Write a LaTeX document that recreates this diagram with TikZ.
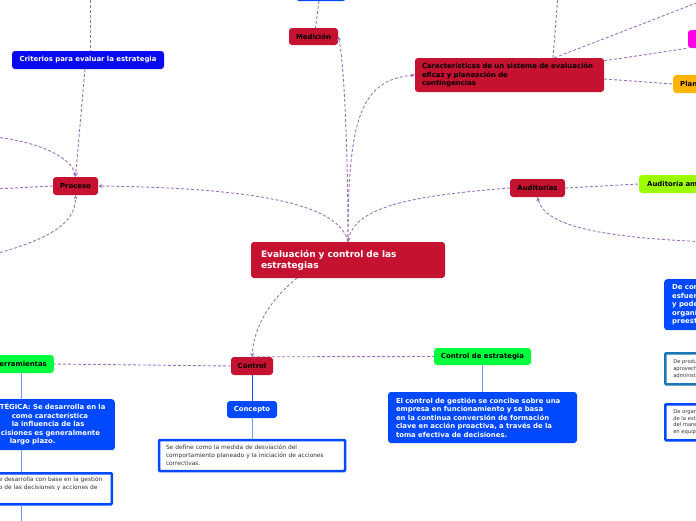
\documentclass[tikz,border=0pt]{standalone}
\usepackage{fontspec}
\setmainfont{DejaVu Sans}
\usepackage{xcolor}
\usetikzlibrary{arrows.meta}

\definecolor{mapred}{HTML}{C41230}
\definecolor{mapblue}{HTML}{0049FF}
\definecolor{mapdeep}{HTML}{0A0AF0}
\definecolor{mapgreen}{HTML}{00FF3C}
\definecolor{maplime}{HTML}{9CFF00}
\definecolor{mappink}{HTML}{FF00E6}
\definecolor{maporange}{HTML}{FFB400}
\definecolor{mapteal}{HTML}{1C78B4}
\definecolor{maplink}{HTML}{9C72BE}
\definecolor{maptext}{HTML}{333333}

\tikzset{
	topic/.style={rounded corners=3pt, inner sep=0pt, font=\bfseries\fontsize{6.9}{8.5}\selectfont},
	redtopic/.style={topic, fill=mapred, text=black},
	note/.style={topic, fill=mapblue, text=white, align=left},
	card/.style={rounded corners=1pt, inner sep=0pt, fill=white, draw=mapblue, line width=2.5pt, text=maptext, align=left, font=\fontsize{5.9}{8}\selectfont},
	link/.style={draw=maplink, line width=0.9pt, dash pattern=on 3pt off 2pt},
	linkto/.style={link, -{Stealth[length=4pt,width=4pt]}},
	stem/.style={draw=mapblue!55, line width=1pt},
}

\begin{document}
\begin{tikzpicture}[x=1pt,y=-1pt]
	\useasboundingbox (0,0) rectangle (696,520);
	\clip (0,0) rectangle (696,520);
	\node[redtopic, text=white, minimum width=194pt, minimum height=36pt, text width=174pt, align=left, font=\bfseries\fontsize{9}{11}\selectfont] (main) at (348,260) {Evaluación y control de las\\estrategias};
	\node[topic, fill=mapblue, minimum width=50pt, minimum height=18pt] (tbl) at (321,-8) {};
	\node[redtopic, minimum width=49pt, minimum height=17pt] (med) at (313.5,36.5) {Medición};
	\node[topic, fill=mapdeep, text=white, minimum width=152pt, minimum height=18pt] (crt) at (88,60) {Criterios para evaluar la estrategia};
	\node[redtopic, minimum width=45pt, minimum height=18pt] (pro) at (75.5,186) {Proceso};
	\node[redtopic, minimum width=189pt, minimum height=34pt, text width=175pt, align=left] (car) at (509.5,75) {Características de un sistema de evaluación\\eficaz y planeación de\\contingencias};
	\node[topic, fill=mappink, minimum width=40pt, minimum height=18pt] (pnk) at (708,39) {};
	\node[topic, fill=maporange, anchor=west, minimum width=60pt, minimum height=18pt, text width=46pt, align=left] (pln) at (673,84) {Plan};
	\node[redtopic, minimum width=55pt, minimum height=18pt] (aud) at (537.5,188) {Auditorías};
	\node[topic, fill=maplime, anchor=west, minimum width=100pt, minimum height=18pt, text width=84pt, align=left] (ama) at (639,184) {Auditoría am};
	\node[note, anchor=north west, minimum width=60pt, minimum height=51pt, text width=44pt] (rb1) at (664,279) {De con\\esfuer\\y pode\\organi\\preest};
	\node[card, draw=mapteal, anchor=north west, minimum width=60pt, minimum height=31pt, text width=44pt, font=\fontsize{5.2}{6.7}\selectfont] (rb2) at (664,352) {De produ\\aprovech\\administ};
	\node[card, anchor=north west, minimum width=60pt, minimum height=36pt, text width=44pt, font=\fontsize{5.2}{6.6}\selectfont] (rb3) at (664,403) {De organ\\de la estr\\del mane\\en equip};
	\node[redtopic, minimum width=42pt, minimum height=18pt] (ctl) at (252,366) {Control};
	\node[topic, fill=mapblue, text=white, minimum width=50pt, minimum height=17pt] (cpt) at (252,409.5) {Concepto};
	\node[card, minimum width=186pt, minimum height=31pt, text width=172pt] (dfn) at (252,455.5) {Se define como la medida de desviación del\\comportamiento planeado y la iniciación de acciones\\correctivas.};
	\node[topic, fill=mapgreen, minimum width=97pt, minimum height=17pt] (ces) at (482.5,356.5) {Control de estrategia};
	\node[note, minimum width=189pt, minimum height=51pt, text width=173pt] (csd) at (482.5,417.5) {El control de gestión se concibe sobre una\\empresa en funcionamiento y se basa\\en la continua conversión de formación\\clave en acción proactiva, a través de la\\toma efectiva de decisiones.};
	\node[topic, fill=mapgreen, anchor=east, minimum width=80pt, minimum height=18pt, text width=66pt, align=right] (her) at (54,364) {erramientas};
	\node[note, anchor=north east, minimum width=118pt, minimum height=51pt, text width=112pt] (lb1) at (115,399) {\begin{tabular}{@{}l@{}}TÉGICA: Se desarrolla en la\\\hspace*{12pt}como característica\\\hspace*{12pt}la influencia de las\\\hspace*{1pt}cisiones es generalmente\\\hspace*{10pt}largo plazo.\end{tabular}};
	\node[card, anchor=north east, minimum width=116pt, minimum height=31pt, text width=110pt] (lb2) at (113,472) {e desarrolla con base en la gestión\\o de las decisiones y acciones de\\\strut};

	\coordinate (ctop) at (90,-5);
	\coordinate (lfa) at (-5,137);
	\coordinate (lfb) at (-5,189);
	\coordinate (lfc) at (-5,254);
	\coordinate (cta) at (558,-5);
	\coordinate (ctb) at (712,-3);
	\coordinate (rgt) at (710,242);
	\coordinate (hbot) at (21,525);

	\draw[link] ([xshift=-2pt]tbl.south) -- ([xshift=2pt]med.north);
	\draw[linkto] (main.north) .. controls (348,150) and (344,60) .. (med.east);
	\draw[linkto] (main.north) .. controls (340,205) and (260,188) .. (pro.east);
	\draw[linkto] (main.north) .. controls (348,120) and (360,80) .. (car.west);
	\draw[linkto] (aud.west) .. controls (420,195) and (355,205) .. (main.north);
	\draw[linkto] ([xshift=-51pt]main.south) .. controls (272,298) and (254,325) .. (ctl.north);
	\draw[link] (ctl.north) -- (ces.west);
	\draw[link] (ctl.west) -- (her.east);
	\draw[stem, draw=mapblue] (ctl.south) -- (cpt.north);
	\draw[stem] (cpt.south) -- (dfn.north);
	\draw[stem] (ces.south) -- (csd.north);
	\draw[stem] (hbot |- her.south) -- (hbot |- lb1.north);
	\draw[stem] (hbot |- lb1.south) -- (hbot |- lb2.north);
	\draw[stem] (hbot |- lb2.south) -- (hbot);
	\draw[link] (ctop) -- (ctop |- crt.north);
	\draw[linkto] ([xshift=-3pt]crt.south) -- (pro.north);
	\draw[linkto] (lfa) .. controls (40,142) and (72,158) .. (pro.north);
	\draw[link] (lfb) -- (pro.west);
	\draw[linkto] (lfc) .. controls (45,240) and (76,225) .. (pro.south);
	\draw[link] ([xshift=43.5pt]car.north) -- (cta);
	\draw[link] ([xshift=45pt]car.north) -- (ctb);
	\draw[link] ([yshift=-3pt]car.north east) -- (pnk.south west);
	\draw[link] ([yshift=-4pt]car.east) -- (pln.west);
	\draw[link] (aud.east) -- (ama.west);
	\draw[linkto] (rgt) .. controls (610,238) and (545,228) .. (aud.south);
\end{tikzpicture}
\end{document}
